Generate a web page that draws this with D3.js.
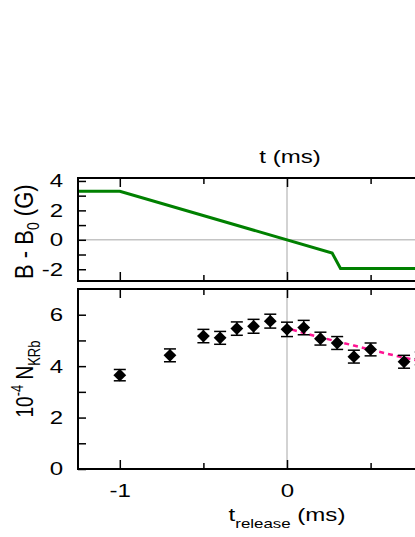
<!DOCTYPE html>
<html lang="en">
<head>
  <meta charset="UTF-8">
  <title>Field ramp and KRb number</title>
  <style>
    body { margin: 0; background: #fff; overflow: hidden; }
    svg { display: block; font-family: "Liberation Sans", Arial, sans-serif; }
  </style>
</head>
<body>
  <svg width="415" height="537"></svg>
  <script src="https://d3js.org/d3.v7.min.js"></script>
  <script>
    // magnetic field ramp (top panel)
    var fieldT = [-1.25, -1, 0.27, 0.32, 1.25];
    var fieldB = [3.3, 3.3, -0.9, -1.95, -1.95];

    // molecule number vs release time (bottom panel)
    var tRelease = [-1, -0.7, -0.5, -0.4, -0.3, -0.2, -0.1, 0, 0.1, 0.2, 0.3, 0.4, 0.5, 0.7, 0.8];
    var nKRb = [3.65, 4.42, 5.17, 5.10, 5.46, 5.55, 5.75, 5.43, 5.50, 5.07, 4.90, 4.37, 4.65, 4.17, 4.30];
    var nErr = [0.22, 0.25, 0.26, 0.25, 0.26, 0.27, 0.27, 0.28, 0.28, 0.25, 0.25, 0.25, 0.25, 0.25, 0.25];

    // dashed fit curve
    var fitT = [0.03, 0.1, 0.2, 0.3, 0.4, 0.5, 0.6, 0.7, 0.8, 0.9, 1.0];
    var fitN = [5.42, 5.29, 5.12, 4.96, 4.80, 4.64, 4.48, 4.33, 4.19, 4.06, 3.95];

    var xMajor = [-1, 0];   // t = 1 lies past the right edge of the picture
    var xMinor = [-0.5, 0.5];

    var svg = d3.select('svg');
    var left = 78, right = 496;
    var sx = 1.3; // the original lettering is wider than it is tall
    var fmt = d => String(d);

    var x = d3.scaleLinear().domain([-1.25, 1.25]).range([left, right]);
    var yTop = d3.scaleLinear().domain([-2.8, 4.2]).range([281, 178]);
    var yBot = d3.scaleLinear().domain([0, 7]).range([469, 289]);

    function styleAxis(g) {
      g.select('.domain').remove();
      g.selectAll('line').attr('stroke', '#000').attr('stroke-width', 1.5);
      g.selectAll('text')
        .attr('font-size', 18.5)
        .attr('fill', '#000')
        .attr('x', function () { return +d3.select(this).attr('x') / sx; })
        .attr('transform', 'scale(' + sx + ',1)');
    }

    function frame(y) {
      var y0 = y.range()[0], y1 = y.range()[1];
      svg.append('path')
        .attr('d', 'M' + right + ',' + y1 + 'H' + left + 'V' + y0 + 'H' + right)
        .attr('fill', 'none')
        .attr('stroke', '#000')
        .attr('stroke-width', 2);
    }

    function xTicks(y, labels) {
      var y0 = y.range()[0], y1 = y.range()[1];
      svg.append('g').attr('transform', 'translate(0,' + y0 + ')')
        .call(d3.axisBottom(x).tickValues(xMajor).tickSize(-9).tickPadding(15).tickFormat(labels ? fmt : ''))
        .call(styleAxis);
      svg.append('g').attr('transform', 'translate(0,' + y0 + ')')
        .call(d3.axisBottom(x).tickValues(xMinor).tickSize(-6).tickFormat('')).call(styleAxis);
      svg.append('g').attr('transform', 'translate(0,' + y1 + ')')
        .call(d3.axisTop(x).tickValues(xMajor).tickSize(-9).tickFormat('')).call(styleAxis);
      svg.append('g').attr('transform', 'translate(0,' + y1 + ')')
        .call(d3.axisTop(x).tickValues(xMinor).tickSize(-6).tickFormat('')).call(styleAxis);
    }

    function yTicks(y, major, minor) {
      svg.append('g').attr('transform', 'translate(' + left + ',0)')
        .call(d3.axisLeft(y).tickValues(major).tickSize(-8).tickPadding(15).tickFormat(fmt))
        .call(styleAxis);
      svg.append('g').attr('transform', 'translate(' + left + ',0)')
        .call(d3.axisLeft(y).tickValues(minor).tickSize(-8).tickFormat(''))
        .call(styleAxis);
    }

    // ---- top panel ----
    var grid = '#c4c4c4';
    svg.append('line')
      .attr('x1', x(0)).attr('x2', x(0)).attr('y1', yTop.range()[1]).attr('y2', yTop.range()[0])
      .attr('stroke', grid).attr('stroke-width', 1.5);
    svg.append('line')
      .attr('x1', left).attr('x2', right).attr('y1', yTop(0)).attr('y2', yTop(0))
      .attr('stroke', grid).attr('stroke-width', 1.5);

    var fieldLine = d3.line().x((d, i) => x(fieldT[i])).y(d => yTop(d));
    svg.append('path')
      .attr('d', fieldLine(fieldB))
      .attr('fill', 'none')
      .attr('stroke', '#008000')
      .attr('stroke-width', 3);

    frame(yTop);
    xTicks(yTop, false);
    yTicks(yTop, [-2, 0, 2, 4], [-1, 1, 3]);

    svg.append('text')
      .attr('transform', 'translate(290,163) scale(' + sx + ',1)')
      .attr('text-anchor', 'middle')
      .attr('font-size', 18.5)
      .text('t (ms)');

    var tl = svg.append('text')
      .attr('transform', 'translate(33,' + yTop(0.55) + ') scale(1.2,1) rotate(-90)')
      .attr('text-anchor', 'middle')
      .attr('font-size', 22);
    tl.append('tspan').text('B - B');
    tl.append('tspan').attr('font-size', 14).attr('dy', 5).text('0');
    tl.append('tspan').attr('dy', -5).text(' (G)');

    // ---- bottom panel ----
    svg.append('line')
      .attr('x1', x(0)).attr('x2', x(0)).attr('y1', yBot.range()[1]).attr('y2', yBot.range()[0])
      .attr('stroke', grid).attr('stroke-width', 1.5);

    var fitLine = d3.line().x((d, i) => x(fitT[i])).y(d => yBot(d));
    svg.append('path')
      .attr('d', fitLine(fitN))
      .attr('fill', 'none')
      .attr('stroke', '#ff1493')
      .attr('stroke-width', 2.5)
      .attr('stroke-dasharray', '5,4');

    var pts = svg.append('g').selectAll('g')
      .data(nKRb)
      .join('g')
      .attr('transform', (d, i) => 'translate(' + x(tRelease[i]) + ',0)');

    pts.append('line')
      .attr('y1', (d, i) => yBot(d + nErr[i]))
      .attr('y2', (d, i) => yBot(d - nErr[i]))
      .attr('stroke', '#000').attr('stroke-width', 1.5);
    pts.selectAll('.cap')
      .data((d, i) => [d + nErr[i], d - nErr[i]])
      .join('line')
      .attr('class', 'cap')
      .attr('x1', -6).attr('x2', 6)
      .attr('y1', d => yBot(d)).attr('y2', d => yBot(d))
      .attr('stroke', '#000').attr('stroke-width', 1.5);
    pts.append('path')
      .attr('d', d3.symbol(d3.symbolSquare, 82))
      .attr('transform', d => 'translate(0,' + yBot(d) + ') rotate(45)')
      .attr('fill', '#000');

    frame(yBot);
    xTicks(yBot, true);
    yTicks(yBot, [0, 2, 4, 6], [1, 3, 5]);

    var bl = svg.append('text')
      .attr('transform', 'translate(33,' + yBot(3.5) + ') scale(' + sx + ',1) rotate(-90)')
      .attr('text-anchor', 'middle')
      .attr('font-size', 19);
    bl.append('tspan').text('10');
    bl.append('tspan').attr('font-size', 13).attr('dy', -8).text('-4');
    bl.append('tspan').attr('dy', 8).text(' N');
    bl.append('tspan').attr('font-size', 13).attr('dy', 5).text('KRb');

    var xl = svg.append('text')
      .attr('transform', 'translate(' + x(0) + ',521) scale(' + sx + ',1)')
      .attr('text-anchor', 'middle')
      .attr('font-size', 18.5);
    xl.append('tspan').text('t');
    xl.append('tspan').attr('font-size', 13).attr('dy', 7).text('release');
    xl.append('tspan').attr('dy', -7).text(' (ms)');
  </script>
</body>
</html>
